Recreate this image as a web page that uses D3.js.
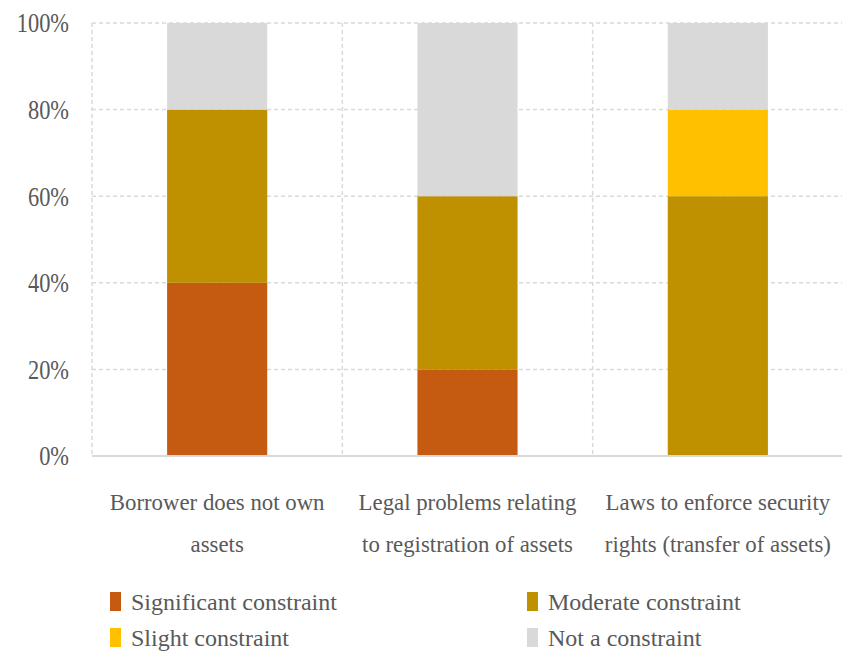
<!DOCTYPE html>
<html>
<head>
<meta charset="utf-8">
<script src="https://cdn.jsdelivr.net/npm/d3@7"></script>
<style>
  body { margin: 0; background: #fff; }
</style>
</head>
<body>
<div class="chart-container"></div>
<script>
const categories = ["Borrower does not own\nassets", "Legal problems relating\nto registration of assets", "Laws to enforce security\nrights (transfer of assets)"];
const seriesNames = ["Significant constraint", "Moderate constraint", "Slight constraint", "Not a constraint"];
const significant = [40, 20, 0];
const moderate = [40, 40, 60];
const slight = [0, 0, 20];
const notConstraint = [20, 40, 20];
const yTicks = [0, 20, 40, 60, 80, 100];
const colors = ["#C55A11", "#BF9000", "#FFC000", "#D9D9D9"];

const fontFam = "'Liberation Serif', 'DejaVu Serif', serif";
const w = 842;
const h = 652;
const margin = { top: 23, bottom: 196, left: 92, right: -1 };
const width = w - margin.left - margin.right;
const height = h - margin.top - margin.bottom;

const svg = d3.select(".chart-container")
  .append("svg")
  .attr("width", w)
  .attr("height", h);

const g = svg.append("g")
  .attr("transform", "translate(" + margin.left + "," + margin.top + ")");

const x = d3.scaleBand()
  .domain(categories)
  .range([0, width])
  .padding(0);

const y = d3.scaleLinear()
  .domain([0, 100])
  .range([height, 0]);

// build rows for the stack
const rows = categories.map(function(c, i) {
  return { cat: c, s0: significant[i], s1: moderate[i], s2: slight[i], s3: notConstraint[i] };
});
const stack = d3.stack().keys(["s0", "s1", "s2", "s3"]);
const layers = stack(rows);

// gridlines
g.append("g")
  .selectAll("line")
  .data(yTicks.filter(function(d) { return d > 0; }))
  .enter().append("line")
  .attr("x1", 0).attr("x2", width)
  .attr("y1", function(d) { return y(d); })
  .attr("y2", function(d) { return y(d); })
  .attr("stroke", "#d9d9d9")
  .attr("stroke-width", 1.5)
  .attr("stroke-dasharray", "4,3");

g.append("g")
  .selectAll("line")
  .data(categories.concat(["end"]))
  .enter().append("line")
  .attr("x1", function(d, i) { return i * x.step(); })
  .attr("x2", function(d, i) { return i * x.step(); })
  .attr("y1", y(100)).attr("y2", y(0))
  .attr("stroke", "#d9d9d9")
  .attr("stroke-width", 1.5)
  .attr("stroke-dasharray", "4,3");

// bars
const barW = x.bandwidth() * 0.4;
g.append("g")
  .selectAll("g")
  .data(layers)
  .enter().append("g")
  .attr("fill", function(d, i) { return colors[i]; })
  .selectAll("rect")
  .data(function(d) { return d; })
  .enter().append("rect")
  .attr("x", function(d) { return x(d.data.cat) + (x.bandwidth() - barW) / 2; })
  .attr("width", barW)
  .attr("y", function(d) { return y(d[1]); })
  .attr("height", function(d) { return y(d[0]) - y(d[1]); });

// baseline
g.append("line")
  .attr("x1", 0).attr("x2", width)
  .attr("y1", y(0)).attr("y2", y(0))
  .attr("stroke", "#d9d9d9")
  .attr("stroke-width", 2);

// y axis labels
const yAxis = g.append("g")
  .call(d3.axisLeft(y).tickValues(yTicks).tickFormat(function(d) { return d + "%"; }).tickSize(0).tickPadding(23));
yAxis.select(".domain").remove();
yAxis.selectAll("text")
  .attr("class", "cond")
  .attr("data-f", 0.8)
  .style("font-family", fontFam)
  .style("font-size", "28px")
  .style("fill", "#595959");

// category labels
categories.forEach(function(c) {
  c.split("\n").forEach(function(line, j) {
    g.append("text")
      .attr("class", "cond")
      .attr("data-f", 0.95)
      .attr("x", x(c) + x.bandwidth() / 2)
      .attr("y", height + 54 + j * 42)
      .attr("text-anchor", "middle")
      .style("font-family", fontFam)
      .style("font-size", "24px")
      .style("fill", "#595959")
      .text(line);
  });
});

// legend
const legend = svg.append("g")
  .selectAll("g")
  .data(seriesNames)
  .enter().append("g")
  .attr("transform", function(d, i) {
    return "translate(" + (i % 2 === 0 ? 110 : 527) + "," + (Math.floor(i / 2) * 36 + 592) + ")";
  });
legend.append("rect")
  .attr("width", 11)
  .attr("height", 19)
  .attr("fill", function(d, i) { return colors[i]; });
legend.append("text")
  .attr("class", "cond")
  .attr("data-f", 1)
  .attr("x", 21)
  .attr("y", 18)
  .style("font-family", fontFam)
  .style("font-size", "24px")
  .style("fill", "#595959")
  .text(function(d) { return d; });

// condense text a little to mimic narrow serif
svg.selectAll("text.cond").each(function() {
  const f = +this.getAttribute("data-f");
  const len = this.getComputedTextLength();
  d3.select(this).attr("textLength", len * f).attr("lengthAdjust", "spacingAndGlyphs");
});
</script>
</body>
</html>
